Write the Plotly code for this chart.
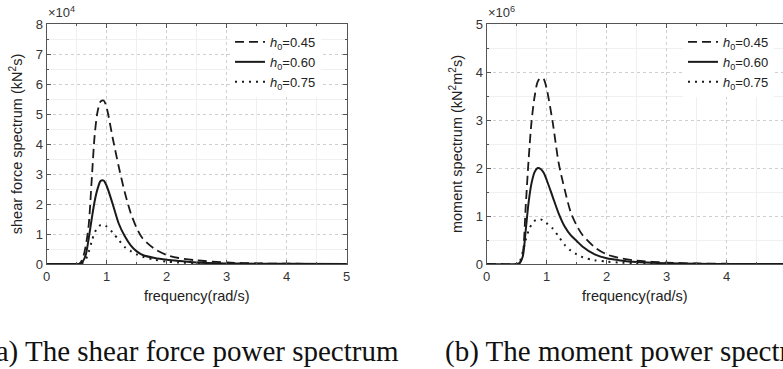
import plotly.graph_objects as go

# frequency grid (rad/s)
freq = [0.0, 0.5, 0.55, 0.6, 0.65, 0.7, 0.75, 0.8, 0.85, 0.9, 0.95, 1.0, 1.1, 1.2, 1.3,
        1.4, 1.5, 1.6, 1.8, 2.0, 2.2, 2.5, 3.0, 3.5, 4.0, 5.0]

# shear force spectrum (x1e4 kN^2 s)
shear_045 = [0, 0, 0.02, 0.18, 0.6, 1.3, 2.8, 4.3, 5.1, 5.42, 5.45, 5.2, 4.2, 3.25, 2.4,
             1.7, 1.2, 0.85, 0.5, 0.3, 0.2, 0.12, 0.05, 0.02, 0.01, 0]
shear_060 = [0, 0, 0.01, 0.08, 0.3, 0.85, 1.5, 2.1, 2.52, 2.77, 2.78, 2.6, 2.0, 1.35, 0.93,
             0.62, 0.42, 0.3, 0.2, 0.14, 0.1, 0.05, 0.02, 0.01, 0.005, 0]
shear_075 = [0, 0, 0.005, 0.04, 0.15, 0.4, 0.75, 1.05, 1.22, 1.3, 1.3, 1.25, 1.05, 0.8, 0.57,
             0.43, 0.32, 0.24, 0.14, 0.08, 0.05, 0.03, 0.01, 0.005, 0, 0]

# moment spectrum (x1e6 kN^2 m^2 s)
moment_045 = [0, 0, 0.02, 0.2, 1.2, 2.2, 3.0, 3.5, 3.8, 3.88, 3.85, 3.65, 2.95, 2.1, 1.55,
              1.08, 0.8, 0.6, 0.35, 0.2, 0.13, 0.07, 0.03, 0.01, 0.005, 0]
moment_060 = [0, 0, 0.02, 0.15, 0.7, 1.3, 1.7, 1.92, 2.0, 1.98, 1.9, 1.75, 1.4, 1.05, 0.78,
              0.6, 0.48, 0.36, 0.2, 0.12, 0.08, 0.04, 0.015, 0.005, 0, 0]
moment_075 = [0, 0, 0.05, 0.25, 0.5, 0.7, 0.83, 0.9, 0.93, 0.93, 0.9, 0.85, 0.74, 0.57, 0.4,
              0.28, 0.2, 0.14, 0.08, 0.05, 0.03, 0.015, 0.005, 0, 0, 0]

labels = ["<i>h</i><sub>0</sub>=0.45", "<i>h</i><sub>0</sub>=0.60", "<i>h</i><sub>0</sub>=0.75"]
dashes = ["9px,5px", "solid", "2px,5px"]
widths = [1.8, 2.0, 2.0]

W, H = 783, 369
fig = go.Figure()

for ys, lab, d, w in zip([shear_045, shear_060, shear_075], labels, dashes, widths):
    fig.add_trace(go.Scatter(x=freq, y=ys, mode="lines", name=lab,
                             line=dict(color="#1a1a1a", dash=d, width=w, shape="spline", smoothing=0.8),
                             xaxis="x", yaxis="y", legend="legend"))
for ys, lab, d, w in zip([moment_045, moment_060, moment_075], labels, dashes, widths):
    fig.add_trace(go.Scatter(x=freq, y=ys, mode="lines", name=lab,
                             line=dict(color="#1a1a1a", dash=d, width=w, shape="spline", smoothing=0.8),
                             xaxis="x2", yaxis="y2", legend="legend2"))

tickfont = dict(family="Arial, Liberation Sans, sans-serif", size=13, color="#333")
titlefont = dict(family="Arial, Liberation Sans, sans-serif", size=14.5, color="#222")


def minor_spec():
    return dict(ticks="inside", ticklen=2, tickcolor="#555", showgrid=True,
                gridcolor="#f0f0f0", griddash="solid", gridwidth=1, dtick=0.5)


def ax_common():
    return dict(
        showline=True, linecolor="#555", linewidth=1.2,
        ticks="inside", ticklen=4, tickcolor="#555", tickwidth=1,
        showgrid=True, gridcolor="#cfcfcf", griddash="dot", gridwidth=1,
        zeroline=False, tickfont=tickfont, automargin=False, dtick=1,
        minor=minor_spec(),
    )


ydom = [(H - 264) / H, (H - 24) / H]

xa = ax_common()
xa.update(domain=[46.7 / W, 346.7 / W], range=[0, 5], mirror="allticks", anchor="y",
          title=dict(text="frequency(rad/s)", font=titlefont, standoff=8))
ya = ax_common()
ya.update(domain=ydom, range=[0, 8], mirror="allticks", anchor="x",
          title=dict(text="shear force spectrum (kN<sup>2</sup>s)", font=titlefont, standoff=9))
xa2 = ax_common()
xa2.update(domain=[486.7 / W, 1.0], range=[0, (W - 486.7) / 60], mirror="allticks", anchor="y2",
           title=dict(text="frequency(rad/s)", font=titlefont, standoff=8))
ya2 = ax_common()
ya2.update(domain=ydom, range=[0, 5], mirror=False, anchor="x2",
           title=dict(text="moment spectrum (kN<sup>2</sup>m<sup>2</sup>s)", font=titlefont, standoff=9))

legfont = dict(family="Arial, Liberation Sans, sans-serif", size=13, color="#222")
fig.update_layout(
    width=W, height=H, autosize=False,
    margin=dict(l=0, r=0, t=0, b=0),
    paper_bgcolor="white", plot_bgcolor="white",
    xaxis=xa, yaxis=ya, xaxis2=xa2, yaxis2=ya2,
    legend=dict(x=230 / W, y=(H - 27) / H, xanchor="left", yanchor="top", bgcolor="white",
                font=legfont, borderwidth=0, tracegroupgap=0, itemwidth=30),
    legend2=dict(x=683 / W, y=(H - 27) / H, xanchor="left", yanchor="top", bgcolor="white",
                 font=legfont, borderwidth=0, tracegroupgap=0, itemwidth=30),
    annotations=[
        dict(text="×10<sup>4</sup>", x=46 / W, y=(H - 22) / H, xref="paper", yref="paper",
             xanchor="left", yanchor="bottom", showarrow=False,
             font=dict(family="Arial, Liberation Sans, sans-serif", size=13, color="#333")),
        dict(text="×10<sup>6</sup>", x=486 / W, y=(H - 22) / H, xref="paper", yref="paper",
             xanchor="left", yanchor="bottom", showarrow=False,
             font=dict(family="Arial, Liberation Sans, sans-serif", size=13, color="#333")),
        dict(text="(a) The shear force power spectrum", x=401 / W, y=(H - 351) / H, xref="paper", yref="paper",
             xanchor="right", yanchor="middle", showarrow=False,
             font=dict(family="Liberation Serif, Times New Roman, serif", size=29, color="#111")),
        dict(text="(b) The moment power spectrum", x=443 / W, y=(H - 351) / H, xref="paper", yref="paper",
             xanchor="left", yanchor="middle", showarrow=False,
             font=dict(family="Liberation Serif, Times New Roman, serif", size=29, color="#111")),
    ],
)

fig.write_html("out.html", config={"displayModeBar": False},
               post_script="document.body.style.margin='0px';document.body.style.overflow='hidden';")
